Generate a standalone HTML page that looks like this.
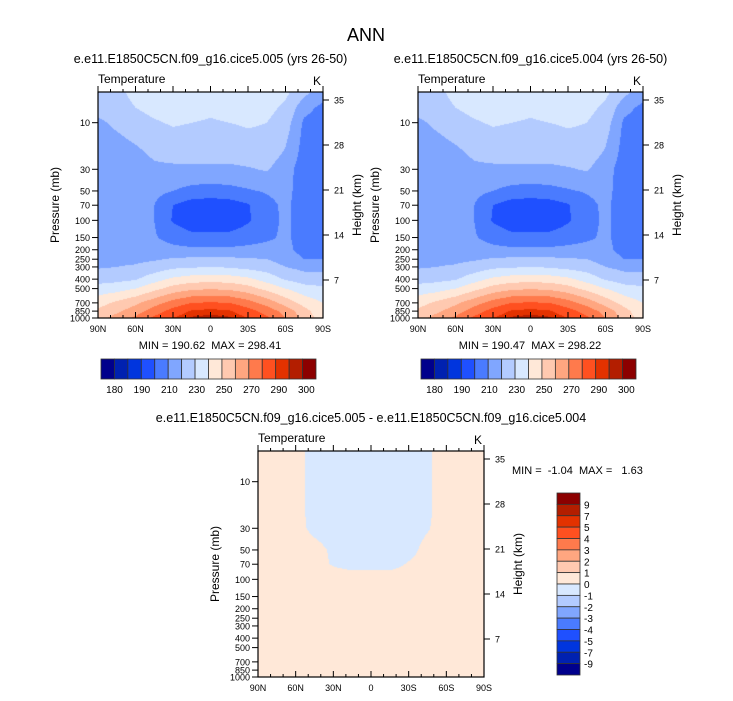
<!DOCTYPE html>
<html><head><meta charset="utf-8">
<style>
body{margin:0;background:#fff;width:733px;height:701px;overflow:hidden;font-family:"Liberation Sans",sans-serif;}
#root{position:relative;width:733px;height:701px;}
text{white-space:pre;}
</style></head>
<body><div id="root">
<svg id="svg" width="733" height="701" style="position:absolute;left:0;top:0"></svg>
</div>
<script>
// ---- data ----
const lats = [90,75,60,45,30,15,0,-15,-30,-45,-60,-75,-90];
const levels = [5,7,10,20,30,50,70,100,150,200,250,300,400,500,700,850,1000];
const temp = [
[225,228,232,235,235,235,235,235,235,234,232,222,215],
[224,227,230,233,234,234,232,234,234,233,228,214,207],
[218,222,226,229,231,230,229,230,231,230,225,208,204],
[215,215,218,222,224,224,224,224,226,226,219,206,204],
[214,214,215,218,218,218,218,218,219,221,214,205,203],
[214,214,214,213,210,207,206,207,209,211,213,205,203],
[214,214,213,210,200,195,194,195,199,207,212,205,204],
[215,214,213,210,199,194,193,194,199,206,212,205,204],
[216,215,214,211,206,203,203,203,205,208,212,205,204],
[218,217,216,215,213,212,212,212,213,214,213,206,205],
[218,218,218,219,221,222,222,222,221,220,216,210,210],
[219,220,221,224,228,229,230,229,227,225,220,217,217],
[226,227,229,236,242,245,246,245,242,236,229,225,224],
[234,236,240,247,254,258,259,258,254,247,240,234,232],
[246,252,258,266,274,280,281,280,274,266,256,246,240],
[252,258,265,275,284,291,293,291,284,276,266,254,242],
[256,264,272,282,290,296,297,296,290,282,270,256,245]];
const diff = [
[0.3,0.3,0.2,-0.2,-0.3,-0.3,-0.3,-0.3,-0.3,-0.1,0.3,0.3,0.3],
[0.3,0.3,0.2,-0.2,-0.3,-0.3,-0.3,-0.3,-0.3,-0.1,0.3,0.3,0.3],
[0.3,0.3,0.2,-0.2,-0.3,-0.3,-0.3,-0.3,-0.3,-0.1,0.3,0.3,0.3],
[0.3,0.3,0.2,-0.2,-0.3,-0.3,-0.3,-0.3,-0.3,-0.1,0.3,0.3,0.3],
[0.3,0.3,0.2,-0.15,-0.3,-0.3,-0.3,-0.3,-0.3,-0.05,0.3,0.3,0.3],
[0.3,0.3,0.3,0.2,-0.1,-0.3,-0.3,-0.3,-0.2,0.2,0.3,0.3,0.3],
[0.3,0.3,0.3,0.2,-0.05,-0.2,-0.2,-0.2,0.05,0.2,0.3,0.3,0.3],
[0.3,0.3,0.3,0.3,0.3,0.3,0.3,0.3,0.3,0.3,0.3,0.3,0.3],
[0.3,0.3,0.3,0.3,0.3,0.3,0.3,0.3,0.3,0.3,0.3,0.3,0.3],
[0.3,0.3,0.3,0.3,0.3,0.3,0.3,0.3,0.3,0.3,0.3,0.3,0.3],
[0.3,0.3,0.3,0.3,0.3,0.3,0.3,0.3,0.3,0.3,0.3,0.3,0.3],
[0.3,0.3,0.3,0.3,0.3,0.3,0.3,0.3,0.3,0.3,0.3,0.3,0.3],
[0.3,0.3,0.3,0.3,0.3,0.3,0.3,0.3,0.3,0.3,0.3,0.3,0.3],
[0.3,0.3,0.3,0.3,0.3,0.3,0.3,0.3,0.3,0.3,0.3,0.3,0.3],
[0.3,0.3,0.3,0.3,0.3,0.3,0.3,0.3,0.3,0.3,0.3,0.3,0.3],
[0.3,0.3,0.3,0.3,0.3,0.3,0.3,0.3,0.3,0.3,0.3,0.3,0.3],
[0.3,0.3,0.3,0.3,0.3,0.3,0.3,0.3,0.3,0.3,0.3,0.3,0.3]];
const tempLevels = [180,185,190,200,210,220,230,240,250,260,270,280,290,295,300];
const tempLabels = ["180","190","210","230","250","270","290","300"];
const diffLevels = [-9,-7,-5,-4,-3,-2,-1,0,1,2,3,4,5,7,9];
const diffLabels = ["9","7","5","4","3","2","1","0","-1","-2","-3","-4","-5","-7","-9"];
const colors = ["#00008c","#0021b0","#0035de","#1f50ff","#4a7bff","#80a6ff","#b3cbff","#d8e8ff","#ffe8d8","#ffc9b0","#ffa680","#ff7a4c","#ff5020","#e33200","#b31e00","#8c0000"];
const pTicks = [10,30,50,70,100,150,200,250,300,400,500,700,850,1000];
const latTicks = [90,60,30,0,-30,-60,-90];
const latLabels = ["90N","60N","30N","0","30S","60S","90S"];
const kmTicks = [35,28,21,14,7];

const NS="http://www.w3.org/2000/svg";
const svg=document.getElementById('svg');
function el(tag,attrs,parent,text){const e=document.createElementNS(NS,tag);for(const k in attrs)e.setAttribute(k,attrs[k]);if(text!==undefined)e.textContent=text;(parent||svg).appendChild(e);return e;}
const LPT=Math.log10(4.85);
function yOfP(p,top,H){return top+(Math.log10(p)-LPT)/(3-LPT)*H;}
function xOfLat(l,left,W){return left+(90-l)/180*W;}
function yOfKm(k,top,H){return top+(280-92)*H/226-(k-7)*(180/28)*H/226;}
function hex(c){return [parseInt(c.substr(1,2),16),parseInt(c.substr(3,2),16),parseInt(c.substr(5,2),16)];}
const rgb=colors.map(hex);
function sample(grid,lat,p){
 let xi=(90-lat)/15; xi=Math.max(0,Math.min(11.9999,xi));
 const i0=Math.floor(xi),fx=xi-i0;
 const lp=Math.log10(Math.max(5,Math.min(1000,p)));
 let j=0; while(j<levels.length-2 && Math.log10(levels[j+1])<lp) j++;
 const a=Math.log10(levels[j]),b=Math.log10(levels[j+1]);
 const fy=Math.max(0,Math.min(1,(lp-a)/(b-a)));
 const v0=grid[j][i0]*(1-fx)+grid[j][i0+1]*fx;
 const v1=grid[j+1][i0]*(1-fx)+grid[j+1][i0+1]*fx;
 return v0*(1-fy)+v1*fy;
}
function cls(v,lv){let k=0;while(k<lv.length&&v>=lv[k])k++;return k;}

function panel(name,grid,lv,left,top,W,H,title){
 const g=el('g',{});
 
 
 const cv=document.createElement('canvas');cv.width=W;cv.height=H;
 const ctx=cv.getContext('2d');const im=ctx.createImageData(W,H);
 for(let y=0;y<H;y++){const p=Math.pow(10,LPT+(y+0.5)/H*(3-LPT));
  for(let x=0;x<W;x++){const lat=90-(x+0.5)/W*180;const c=rgb[cls(sample(grid,lat,p),lv)];
   const o=(y*W+x)*4;im.data[o]=c[0];im.data[o+1]=c[1];im.data[o+2]=c[2];im.data[o+3]=255;}}
 ctx.putImageData(im,0,0);
 const img=el('image',{x:left,y:top,width:W,height:H,href:cv.toDataURL()},g);
 
 
 el('rect',{x:left,y:top,width:W,height:H,fill:'none',stroke:'#000','stroke-width':1.2},g);
 for(let l=90;l>=-90;l-=10){const x=xOfLat(l,left,W);const major=l%30===0;const len=major?6:3;
  el('line',{x1:x,y1:top,x2:x,y2:top-len,stroke:'#000','stroke-width':1},g);
  el('line',{x1:x,y1:top+H,x2:x,y2:top+H-len,stroke:'#000','stroke-width':1},g);}
 latTicks.forEach((l,i)=>{const t=el('text',{x:xOfLat(l,left,W),y:top+H+14,'font-size':9,'text-anchor':'middle'},g,latLabels[i]);
  });
 pTicks.forEach(p=>{const y=yOfP(p,top,H);el('line',{x1:left,y1:y,x2:left-6,y2:y,stroke:'#000'},g);
  const t=el('text',{x:left-8,y:y+3.5,'font-size':9,'text-anchor':'end'},g,String(p));
  });
 kmTicks.forEach(k=>{const y=yOfKm(k,top,H);el('line',{x1:left+W,y1:y,x2:left+W+6,y2:y,stroke:'#000'},g);
  const t=el('text',{x:left+W+11,y:y+3.5,'font-size':9},g,String(k));
  });
 const yt=el('text',{x:0,y:0,'font-size':12,'text-anchor':'middle',transform:`translate(${left-39},${top+H/2}) rotate(-90)`},g,'Pressure (mb)');
 
 const ht=el('text',{x:0,y:0,'font-size':12,'text-anchor':'middle',transform:`translate(${left+W+38},${top+H/2}) rotate(-90)`},g,'Height (km)');
 
 const tt=el('text',{x:left,y:top-9,'font-size':12},g,'Temperature');
 
 const kt=el('text',{x:left+W-2,y:top-7,'font-size':12,'text-anchor':'end'},g,'K');
 
 const ti=el('text',{x:left+W/2,y:top-29,'font-size':12.5,'text-anchor':'middle'},g,title);
 
 return g;
}
function hbar(name,left,top,W,H){
 const g=el('g',{});
 const bw=W/16;
 colors.forEach((c,i)=>{const r=el('rect',{x:left+i*bw,y:top,width:bw,height:H,fill:c,stroke:'#333','stroke-width':0.8},g);
  });
 tempLabels.forEach((s,i)=>{const t=el('text',{x:left+13.5+i*27.4,y:top+H+14,'font-size':10,'text-anchor':'middle'},g,s);
  });
}
function vbar(name,left,top,W,H){
 const g=el('g',{});
 const bh=H/16;
 colors.slice().reverse().forEach((c,i)=>{const r=el('rect',{x:left,y:top+i*bh,width:W,height:bh,fill:c,stroke:'#333','stroke-width':0.8},g);
  });
 diffLabels.forEach((s,i)=>{const t=el('text',{x:left+W+4,y:top+(i+1)*bh+4,'font-size':10},g,s);
  });
}
const main=el('text',{x:366,y:41,'font-size':18,'text-anchor':'middle'},svg,'ANN');

panel('panel-005',temp,tempLevels,98,92,225,226,'e.e11.E1850C5CN.f09_g16.cice5.005 (yrs 26-50)');
panel('panel-004',temp,tempLevels,418,92,225,226,'e.e11.E1850C5CN.f09_g16.cice5.004 (yrs 26-50)');
panel('panel-diff',diff,diffLevels,258,451,226,226,'e.e11.E1850C5CN.f09_g16.cice5.005 - e.e11.E1850C5CN.f09_g16.cice5.004');
const m1=el('text',{x:210,y:349,'font-size':11,'text-anchor':'middle'},svg,'MIN = 190.62  MAX = 298.41');

const m2=el('text',{x:530,y:349,'font-size':11,'text-anchor':'middle'},svg,'MIN = 190.47  MAX = 298.22');

const m3=el('text',{x:512,y:474,'font-size':11},svg,'MIN =  -1.04  MAX =   1.63');

hbar('colorbar-005',101,359,215,20);
hbar('colorbar-004',421,359,215,20);
vbar('colorbar-diff',557,493,23,182);
</script>
</body></html>
